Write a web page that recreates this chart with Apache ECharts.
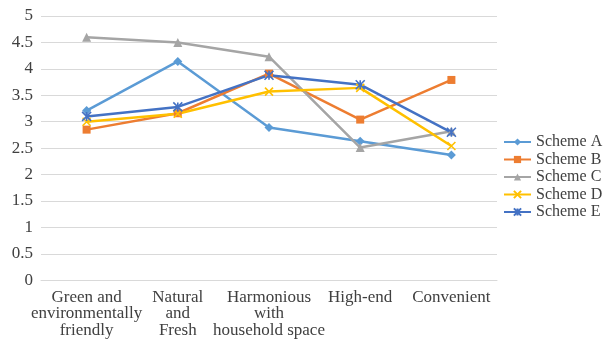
<!DOCTYPE html>
<html>
<head>
<meta charset="utf-8">
<script src="https://cdn.jsdelivr.net/npm/echarts@6/dist/echarts.min.js"></script>
<style>
  html, body { margin: 0; padding: 0; background: #fff; }
  #chart { width: 607px; height: 339px; }
</style>
</head>
<body>
<div id="chart"></div>
<script>
const categories = ['Green and\nenvironmentally\nfriendly', 'Natural\nand\nFresh', 'Harmonious\nwith\nhousehold space', 'High-end', 'Convenient']
const schemeNames = ['Scheme A', 'Scheme B', 'Scheme C', 'Scheme D', 'Scheme E']
const schemeA = [3.21, 4.14, 2.89, 2.63, 2.37]
const schemeB = [2.85, 3.16, 3.91, 3.04, 3.79]
const schemeC = [4.6, 4.5, 4.23, 2.51, 2.82]
const schemeD = [3.0, 3.15, 3.57, 3.64, 2.54]
const schemeE = [3.1, 3.28, 3.88, 3.7, 2.8]
const yTicks = [0, 0.5, 1, 1.5, 2, 2.5, 3, 3.5, 4, 4.5, 5]

const crossPath = 'path://M0,0L10,10M10,0L0,10'
const starPath = 'path://M5,0L5,10M0,0L10,10M10,0L0,10'

const font = '"Liberation Serif", "DejaVu Serif", serif'

const makeSeries = (name, data, color, symbol, size, stroke) => ({
    name: name,
    type: 'line',
    data: data,
    symbol: symbol,
    symbolSize: size,
    lineStyle: {color: color, width: 2.5},
    itemStyle: {
        color: color,
        borderColor: color,
        borderWidth: stroke ? 1.6 : 0
    }
})

echarts.init(document.getElementById('chart'), null, {renderer: 'canvas'}).setOption({
    animation: false,
    textStyle: {fontFamily: font},
    grid: {
        left: 41,
        right: 110,
        top: 16,
        bottom: 58
    },
    legend: {
        data: schemeNames,
        orient: 'vertical',
        left: 503,
        top: 134,
        padding: 0,
        itemWidth: 27,
        itemHeight: 9,
        itemGap: 1.5,
        textStyle: {
            color: '#404040',
            fontSize: 16,
            fontFamily: font
        }
    },
    xAxis: {
        type: 'category',
        data: categories,
        axisTick: {show: false},
        axisLine: {lineStyle: {color: '#d9d9d9', width: 1}},
        axisLabel: {
            interval: 0,
            color: '#404040',
            fontSize: 17,
            lineHeight: 16.5,
            margin: 9,
            fontFamily: font
        }
    },
    yAxis: {
        type: 'value',
        min: yTicks[0],
        max: yTicks[yTicks.length - 1],
        interval: 0.5,
        axisLine: {show: false},
        axisTick: {show: false},
        splitLine: {lineStyle: {color: '#d9d9d9', width: 1}},
        axisLabel: {
            color: '#404040',
            fontSize: 17,
            margin: 8,
            fontFamily: font
        }
    },
    series: [
        makeSeries('Scheme A', schemeA, '#5b9bd5', 'diamond', 9, false),
        makeSeries('Scheme B', schemeB, '#ed7d31', 'rect', 8, false),
        makeSeries('Scheme C', schemeC, '#a5a5a5', 'triangle', 9, false),
        makeSeries('Scheme D', schemeD, '#ffc000', crossPath, 8, true),
        makeSeries('Scheme E', schemeE, '#4472c4', starPath, 9, true)
    ]
})
</script>
</body>
</html>
